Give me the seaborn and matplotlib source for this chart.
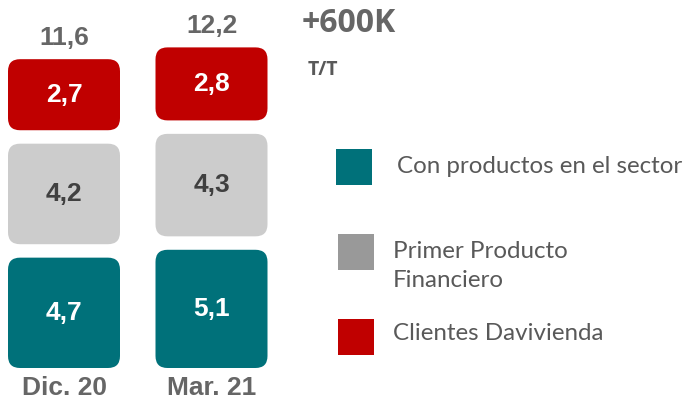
import matplotlib
matplotlib.use("Agg")
import matplotlib.pyplot as plt
from matplotlib.patches import FancyBboxPatch, Rectangle
import seaborn as sns
import pandas as pd

periods = ["Dic. 20", "Mar. 21"]
categories = ["Con productos en el sector", "Primer Producto\nFinanciero", "Clientes Davivienda"]
con_productos = [4.7, 5.1]
primer_producto = [4.2, 4.3]
clientes = [2.7, 2.8]
totals = ["11,6", "12,2"]
growth_text = "+600K"
growth_sub = "T/T"

bar_colors = ["#00717A", "#CCCCCC", "#C00000"]
legend_colors = ["#00717A", "#999999", "#C00000"]
label_colors = ["white", "#404040", "white"]

sns.set_theme(style="white")
plt.rcParams["font.family"] = ["Liberation Sans", "DejaVu Sans"]

W, H = 689, 401
fig = plt.figure(figsize=(W / 100, H / 100), dpi=100)
AX_W = 280
ax = fig.add_axes([0, 0, AX_W / W, 1])

px_x = 147.5          # pixels per x unit
px_y = 19.65          # pixels per y unit
x0_px = 64            # pixel of x=0
y0_px = 359           # pixel (from top) of y=0
core_w = 94 / px_x
gap = 1.6
pad_px = 9
round_px = 12

series = [con_productos, primer_producto, clientes]
rows = []
for ci, vals in enumerate(series):
    for pi, p in enumerate(periods):
        rows.append({"period": p, "cat": ci, "value": vals[pi]})
df = pd.DataFrame(rows)

bottoms = [0.0 for _ in periods]
tops = [0.0 for _ in periods]
for ci in range(len(series)):
    sub = df[df["cat"] == ci]
    n_before = len(ax.patches)
    sns.barplot(data=sub, x="period", y="value", order=periods, color=bar_colors[ci],
                width=core_w, ax=ax, errorbar=None, saturation=1)
    new = ax.patches[n_before:]
    for pi, patch in enumerate(new):
        x = patch.get_x()
        w = patch.get_width()
        h = patch.get_height()
        b = bottoms[pi]
        patch.remove()
        fb = FancyBboxPatch((x, b), w, h,
                            boxstyle=f"round,pad={pad_px / px_x},rounding_size={round_px / px_x}",
                            mutation_aspect=px_x / px_y,
                            facecolor=bar_colors[ci], edgecolor="none")
        ax.add_patch(fb)
        ax.text(x + w / 2, b + h / 2, f"{h:.1f}".replace(".", ","), ha="center", va="center",
                fontsize=19, fontweight="bold", color=label_colors[ci])
        tops[pi] = b + h
        bottoms[pi] = b + h + gap

for pi, t in enumerate(totals):
    ax.text(pi, tops[pi] + 30 / px_y, t, ha="center", va="center",
            fontsize=19, fontweight="bold", color="#666666")
    ax.text(pi, -(388 - y0_px) / px_y, periods[pi], ha="center", va="center",
            fontsize=19, fontweight="bold", color="#666666")

ax.set_xlim(-x0_px / px_x, (AX_W - x0_px) / px_x)
ax.set_ylim(-(H - y0_px) / px_y, y0_px / px_y)
ax.axis("off")

# growth annotation
fig.text(349 / W, 1 - 24 / H, growth_text, ha="center", va="center", fontsize=23,
         fontweight="bold", color="#666666", family=["Open Sans", "DejaVu Sans"])
fig.text(323 / W, 1 - 70 / H, growth_sub, ha="center", va="center", fontsize=14,
         fontweight="bold", color="#595959", family=["Open Sans", "DejaVu Sans"])

# legend
leg_items = [(336, 149, 167), (338, 234, 266), (338, 319, 333)]
text_x = [397, 393, 393]
for i, (lx, ly, ty) in enumerate(leg_items):
    fig.add_artist(Rectangle((lx / W, 1 - (ly + 36) / H), 36 / W, 36 / H,
                             transform=fig.transFigure, facecolor=legend_colors[i], edgecolor="none"))
    fig.text(text_x[i] / W, 1 - ty / H, categories[i],
             ha="left", va="center", fontsize=17.4, color="#595959",
             family=["Lato", "DejaVu Sans"], linespacing=1.5)

fig.savefig("out.png", dpi=100)
